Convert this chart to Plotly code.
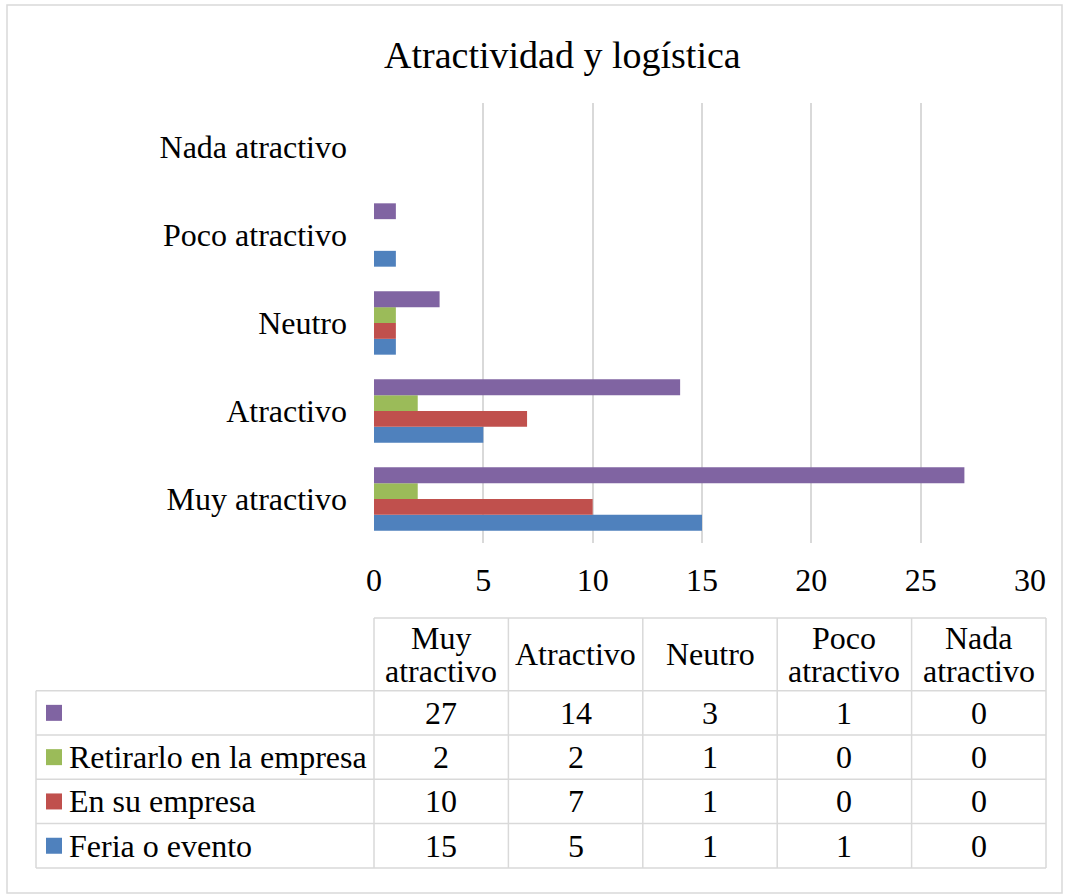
import plotly.graph_objects as go

# datos
categorias = ["Muy atractivo", "Atractivo", "Neutro", "Poco atractivo", "Nada atractivo"]
series = ["Feria o evento", "En su empresa", "Retirarlo en la empresa", ""]
feria = [15, 5, 1, 1, 0]
empresa = [10, 7, 1, 0, 0]
retirarlo = [2, 2, 1, 0, 0]
sin_nombre = [27, 14, 3, 1, 0]
valores = [feria, empresa, retirarlo, sin_nombre]
colores = ["#4F81BD", "#C0504D", "#9BBB59", "#8064A2"]

W, H = 1065, 895
FONT = "Liberation Serif, Times New Roman, serif"
FS = 32
GRID = "#D9D9D9"


def px(x):
    return x / W


def py(y):
    return 1 - y / H


fig = go.Figure()

# barras agrupadas horizontales
for nombre, vals, color in zip(series, valores, colores):
    fig.add_trace(go.Bar(
        y=categorias, x=vals, name=nombre, orientation="h",
        marker=dict(color=color, line=dict(width=0)),
        showlegend=False
    ))

shapes = []
annotations = []

# borde exterior del grafico
shapes.append(dict(type="rect", xref="paper", yref="paper",
                   x0=px(7), x1=px(1062), y0=py(893), y1=py(5),
                   line=dict(color=GRID, width=1.5)))

# titulo
annotations.append(dict(text="Atractividad y logística", xref="paper", yref="paper",
                        x=px(562), y=py(55), showarrow=False,
                        xanchor="center", yanchor="middle",
                        font=dict(family=FONT, size=38, color="black")))

# tabla de datos
col_left = 36
col0 = 374
col_w = (1046 - 374) / len(categorias)
head_top = 618
head_bot = 690.7
row_h = 44.3
n_rows = len(series)
table_bot = head_bot + n_rows * row_h
line = dict(color=GRID, width=1.5)

# lineas horizontales
shapes.append(dict(type="line", xref="paper", yref="paper",
                   x0=px(col0), x1=px(col0 + col_w * len(categorias)),
                   y0=py(head_top), y1=py(head_top), line=line))
for r in range(n_rows + 1):
    yy = head_bot + r * row_h
    shapes.append(dict(type="line", xref="paper", yref="paper",
                       x0=px(col_left), x1=px(col0 + col_w * len(categorias)),
                       y0=py(yy), y1=py(yy), line=line))
# lineas verticales
shapes.append(dict(type="line", xref="paper", yref="paper",
                   x0=px(col_left), x1=px(col_left),
                   y0=py(head_bot), y1=py(table_bot), line=line))
for c in range(len(categorias) + 1):
    xx = col0 + c * col_w
    shapes.append(dict(type="line", xref="paper", yref="paper",
                       x0=px(xx), x1=px(xx),
                       y0=py(head_top), y1=py(table_bot), line=line))

# encabezados
head_mid = (head_top + head_bot) / 2
for c, cat in enumerate(categorias):
    xc = col0 + (c + 0.5) * col_w
    partes = cat.split(" ")
    if len(partes) == 1:
        offs = [0]
    else:
        offs = [-16.5, 16.5]
    for parte, off in zip(partes, offs):
        annotations.append(dict(text=parte, xref="paper", yref="paper",
                                x=px(xc), y=py(head_mid + off), showarrow=False,
                                xanchor="center", yanchor="middle",
                                font=dict(family=FONT, size=FS, color="black")))

# filas (de arriba hacia abajo: ultima serie primero)
for r, s in enumerate(reversed(range(n_rows))):
    yc = head_bot + (r + 0.5) * row_h
    shapes.append(dict(type="rect", xref="paper", yref="paper",
                       x0=px(46), x1=px(62), y0=py(yc + 8), y1=py(yc - 8),
                       fillcolor=colores[s], line=dict(width=0)))
    annotations.append(dict(text=series[s], xref="paper", yref="paper",
                            x=px(67), y=py(yc), showarrow=False,
                            xanchor="left", yanchor="middle",
                            font=dict(family=FONT, size=FS, color="black")))
    for c, v in enumerate(valores[s]):
        xc = col0 + (c + 0.5) * col_w
        annotations.append(dict(text=str(v), xref="paper", yref="paper",
                                x=px(xc), y=py(yc), showarrow=False,
                                xanchor="center", yanchor="middle",
                                font=dict(family=FONT, size=FS, color="black")))

fig.update_layout(
    width=W, height=H,
    margin=dict(l=0, r=0, t=0, b=0),
    paper_bgcolor="white", plot_bgcolor="white",
    barmode="group", bargap=0.28, bargroupgap=0,
    xaxis=dict(domain=[px(374), px(1030)], range=[0, 30], dtick=5,
               showgrid=True, gridcolor=GRID, gridwidth=2,
               zeroline=False, showline=False, ticks="",
               ticklabelstandoff=15, automargin=False,
               tickfont=dict(family=FONT, size=FS, color="black")),
    yaxis=dict(domain=[py(543), py(103)], type="category",
               categoryorder="array", categoryarray=categorias,
               showgrid=False, zeroline=False, showline=False, ticks="",
               ticklabelstandoff=26, automargin=False,
               tickfont=dict(family=FONT, size=FS, color="black")),
    shapes=shapes,
    annotations=annotations,
)

# sin margen del body para que la figura ocupe la ventana exacta
fig.write_html("out.html",
               config={"displayModeBar": False},
               post_script="document.body.style.margin='0';"
                           "document.body.style.overflow='hidden';")
